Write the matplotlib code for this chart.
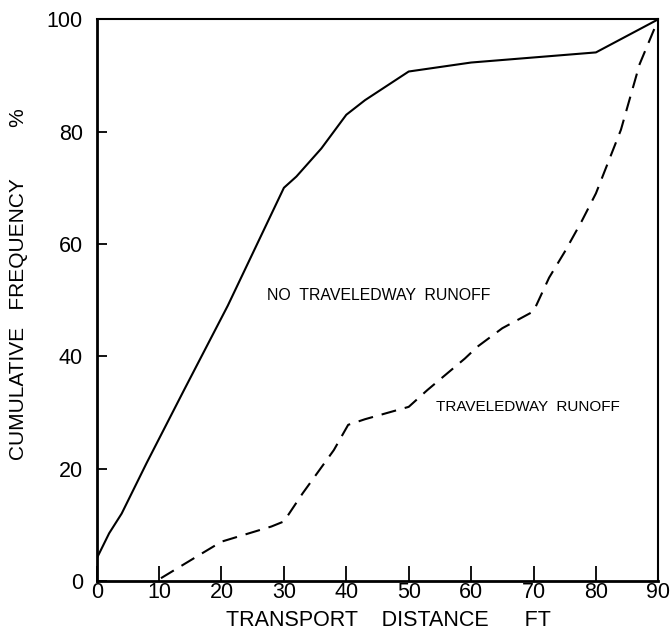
import matplotlib
matplotlib.use('Agg')
import matplotlib.pyplot as plt

# Cumulative frequency of transport distance
dist_no_runoff = [0, 2, 4, 8, 14, 21, 27, 30, 32, 36, 40, 43, 50, 60, 70, 80, 90]
freq_no_runoff = [4, 8.5, 12, 21, 34, 49, 63, 70, 72, 77, 83, 85.6, 90.7, 92.3, 93.2, 94.1, 100]

dist_runoff = [10.3, 17, 20, 28, 30, 33, 38, 40.3, 43, 50, 53, 59, 61, 65, 70, 72.5, 75, 77.7, 80, 84, 87, 90]
freq_runoff = [0.5, 5, 7, 9.7, 10.6, 15.6, 23.3, 27.8, 28.8, 31, 34, 39.6, 41.7, 45, 48, 54, 58.6, 64, 69, 80.3, 92, 100]

xticks = [0, 10, 20, 30, 40, 50, 60, 70, 80, 90]
yticks = [0, 20, 40, 60, 80, 100]

font = ['Liberation Sans', 'DejaVu Sans']

fig = plt.figure(figsize=(6.71, 6.36), dpi=100)
ax = fig.add_axes([0.1441, 0.0865, 0.837, 0.8832])

ax.plot(dist_no_runoff, freq_no_runoff, color='black', lw=1.5)
dash, = ax.plot(dist_runoff, freq_runoff, color='black', lw=1.5)
dash.set_dashes((7.2, 4.3))

ax.set_xlim(0, 90)
ax.set_ylim(0, 100)
ax.set_xticks(xticks)
ax.set_yticks(yticks)
ax.set_xticklabels([str(v) for v in xticks], family=font, fontsize=15.5)
ax.set_yticklabels([str(v) for v in yticks], family=font, fontsize=15.5)
ax.tick_params(axis='x', direction='in', length=11, width=1.3, pad=1)
ax.tick_params(axis='y', direction='in', length=7, width=1.3, pad=10)

for s in ax.spines.values():
    s.set_linewidth(1.5)
ax.spines['left'].set_linewidth(2)
ax.spines['bottom'].set_linewidth(2)

ax.set_xlabel('TRANSPORT    DISTANCE      FT', family=font, fontsize=15.5)
ax.set_ylabel('CUMULATIVE   FREQUENCY         %', family=font, fontsize=15)
ax.xaxis.set_label_coords(0.52, -0.052)
ax.yaxis.set_label_coords(-0.122, 0.528)

ax.text(27.3, 50.9, 'NO  TRAVELEDWAY  RUNOFF', family=font, fontsize=11.4, va='center')
ax.text(54.4, 31, 'TRAVELEDWAY  RUNOFF', family=font, fontsize=11, va='center')

fig.savefig('out.png', dpi=100)
